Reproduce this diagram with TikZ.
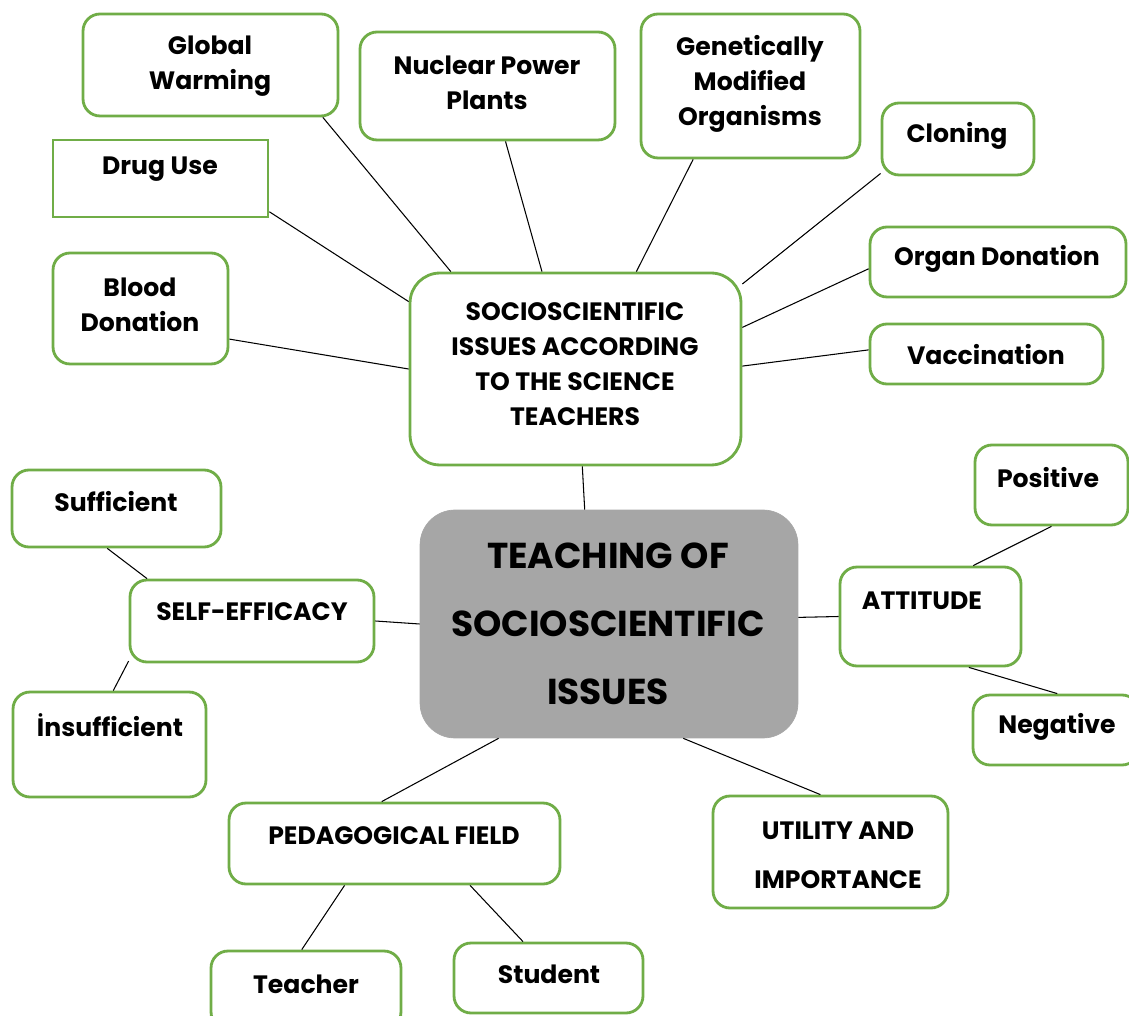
\documentclass[tikz,border=0pt]{standalone}
\usepackage{fontspec}
\setmainfont{Poppins}
\usepackage{tikz}
\usetikzlibrary{positioning,calc}
\definecolor{boxgreen}{RGB}{112,173,71}
\definecolor{hubgray}{RGB}{166,166,166}

\begin{document}
\begin{tikzpicture}[
    x=0.02cm, y=-0.02cm,
    box/.style={draw=boxgreen, line width=1.6pt, rounded corners=0.34cm, fill=white, inner sep=0pt},
    hub/.style={fill=hubgray, draw=hubgray, rounded corners=0.7cm, inner sep=0pt},
    txt/.style={font=\bfseries\fontsize{14.3}{19.9}\selectfont, align=center, inner sep=0pt},
    bigtxt/.style={font=\bfseries\fontsize{20.5}{38.7}\selectfont, align=center, inner sep=0pt},
    link/.style={draw=black, line width=0.6pt}
]
\useasboundingbox (0,0) rectangle (1129,1016);
\clip (0,0) rectangle (1129,1016);

% Central topics
\node[hub, minimum width=7.56cm, minimum height=4.56cm] (teach) at (609,624) {};
\node[bigtxt] (teachT) at (608,624) {TEACHING OF\\SOCIOSCIENTIFIC\\ISSUES};

\node[box, minimum width=6.62cm, minimum height=3.84cm, rounded corners=0.6cm] (ssi) at (575.5,369) {};
\node[txt] (ssiT) at (575,364) {SOCIOSCIENTIFIC\\ISSUES ACCORDING\\TO THE SCIENCE\\TEACHERS};

% Issues named by the teachers
\node[box, minimum width=5.10cm, minimum height=2.04cm] (glob) at (210.5,65) {};
\node[txt] (globT) at (210,66) {Global\\Warming};
\node[box, minimum width=5.10cm, minimum height=2.16cm] (nucl) at (487.5,86) {};
\node[txt] (nuclT) at (487,83) {Nuclear Power\\Plants};
\node[box, minimum width=4.38cm, minimum height=2.88cm] (gmo) at (750.5,86) {};
\node[txt] (gmoT) at (750,84) {Genetically\\Modified\\Organisms};
\node[box, minimum width=3.04cm, minimum height=1.44cm] (clon) at (958,139) {};
\node[txt] (clonT) at (957,136) {Cloning};
\node[box, rounded corners=0pt, minimum width=4.30cm, minimum height=1.54cm] (drug) at (160.5,178.5) {};
\node[txt] (drugT) at (160,169) {Drug Use};
\node[box, minimum width=3.50cm, minimum height=2.22cm] (blood) at (140.5,308.5) {};
\node[txt] (bloodT) at (140,305) {Blood\\Donation};
\node[box, minimum width=5.12cm, minimum height=1.40cm] (organ) at (998,262) {};
\node[txt] (organT) at (997,259) {Organ Donation};
\node[box, minimum width=4.66cm, minimum height=1.20cm] (vacc) at (986.5,354) {};
\node[txt] (vaccT) at (986,355) {Vaccination};

% Self-efficacy
\node[box, minimum width=4.18cm, minimum height=1.54cm] (suff) at (116.5,508.5) {};
\node[txt] (suffT) at (116,502) {Sufficient};
\node[box, minimum width=4.88cm, minimum height=1.64cm] (self) at (252,621) {};
\node[txt] (selfT) at (252,612) {SELF-EFFICACY};
\node[box, minimum width=3.86cm, minimum height=2.10cm] (insuf) at (109.5,744.5) {};
\node[txt] (insufT) at (110,725) {İnsufficient};

% Attitude
\node[box, minimum width=3.06cm, minimum height=1.60cm] (pos) at (1051.5,485) {};
\node[txt] (posT) at (1048,478) {Positive};
\node[box, minimum width=3.62cm, minimum height=1.98cm] (att) at (930.5,616.5) {};
\node[txt] (attT) at (922,601) {ATTITUDE};
\node[box, minimum width=3.32cm, minimum height=1.40cm] (neg) at (1056,730) {};
\node[txt] (negT) at (1057,727) {Negative};

% Pedagogical field and utility
\node[box, minimum width=6.62cm, minimum height=1.62cm] (ped) at (394.5,843.5) {};
\node[txt] (pedT) at (394,836) {PEDAGOGICAL FIELD};
\node[box, minimum width=4.70cm, minimum height=2.24cm] (util) at (830.5,852) {};
\node[txt, font=\bfseries\fontsize{14.3}{27.9}\selectfont] (utilT) at (838,855) {UTILITY AND\\IMPORTANCE};
\node[box, minimum width=3.80cm, minimum height=1.56cm] (teacher) at (306,990) {};
\node[txt] (teacherT) at (306,984) {Teacher};
\node[box, minimum width=3.78cm, minimum height=1.40cm] (student) at (548.5,978) {};
\node[txt] (studentT) at (549,974) {Student};

% Connections
\draw[link] (glob.-25.4) -- (ssi.142.5);
\draw[link] (nucl.-72.3) -- (ssi.109.7);
\draw[link] (gmo.232) -- (ssi.58.7);
\draw[link] (clon.204.3) -- (ssi.27.5);
\draw[link] (drug.-17.9) -- (ssi.158.5);
\draw[link] (organ.183.4) -- (ssi.14.9);
\draw[link] (vacc.178.1) -- (ssi.1.4);
\draw[link] (blood.-19.8) -- (ssi.180);
\draw[link] (ssi.-86.8) -- (teach.102.7);
\draw[link] (self.east) -- (teach.west);
\draw[link] (suff.257.9) -- (self.158);
\draw[link] (insuf.86.5) -- (self.198.3);
\draw[link] (att.west) -- (teach.2.1);
\draw[link] (pos.south) -- (att.50.6);
\draw[link] (neg.88) -- (att.-53.4);
\draw[link] (teach.-134) -- (ped.107.2);
\draw[link] (teach.-57.5) -- (util.100.6);
\draw[link] (ped.220.6) -- (teacher.96.5);
\draw[link] (ped.-29.1) -- (student.125.2);

\end{tikzpicture}
\end{document}
